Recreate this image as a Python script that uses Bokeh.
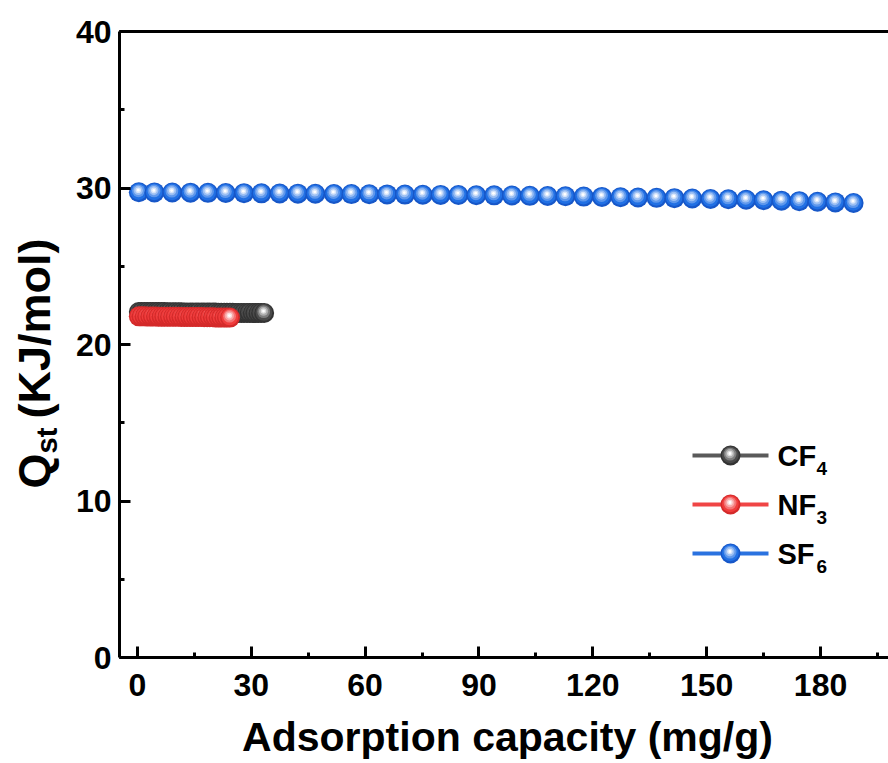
import math

from bokeh.embed import file_html
from bokeh.models import ColumnDataSource, FixedTicker, Label, LinearAxis, SingleIntervalTicker
from bokeh.plotting import figure
from bokeh.resources import INLINE

# ---------------------------------------------------------------- data
# Isosteric heat of adsorption vs. adsorbed amount
cf4_capacity = [0.4, 1.1, 1.9, 2.6, 3.4, 4.1, 4.9, 5.6, 6.4, 7.1, 7.9, 8.6, 9.4, 10.1, 10.9,
                11.6, 12.4, 13.1, 13.9, 14.6, 15.4, 16.1, 16.9, 17.6, 18.4, 19.1, 19.9, 20.6,
                21.4, 22.1, 22.9, 23.6, 24.4, 25.1, 25.9, 26.6, 27.4, 28.1, 28.9, 29.6, 30.4,
                31.1, 31.9, 32.6, 33.4]
cf4_qst = [22.08, 22.08, 22.08, 22.08, 22.07, 22.07, 22.07, 22.07, 22.07, 22.07, 22.06, 22.06,
           22.06, 22.06, 22.06, 22.06, 22.05, 22.05, 22.05, 22.05, 22.05, 22.05, 22.04, 22.04,
           22.04, 22.04, 22.04, 22.04, 22.03, 22.03, 22.03, 22.03, 22.03, 22.03, 22.02, 22.02,
           22.02, 22.02, 22.02, 22.02, 22.01, 22.01, 22.01, 22.01, 22.01]

nf3_capacity = [0.4, 1.1, 1.9, 2.6, 3.4, 4.1, 4.9, 5.6, 6.4, 7.1, 7.9, 8.6, 9.4, 10.1, 10.9,
                11.6, 12.4, 13.1, 13.9, 14.6, 15.4, 16.1, 16.9, 17.6, 18.4, 19.1, 19.9, 20.6,
                21.4, 22.1, 22.9, 23.6, 24.4]
nf3_qst = [21.80, 21.80, 21.80, 21.79, 21.79, 21.79, 21.79, 21.78, 21.78, 21.78, 21.78, 21.77,
           21.77, 21.77, 21.77, 21.76, 21.76, 21.76, 21.76, 21.75, 21.75, 21.75, 21.75, 21.74,
           21.74, 21.74, 21.74, 21.73, 21.73, 21.73, 21.73, 21.72, 21.72]

sf6_capacity = [0.4, 4.5, 9.2, 14.0, 18.6, 23.3, 28.1, 32.7, 37.5, 42.3, 46.9, 51.8, 56.4, 61.1,
                65.8, 70.5, 75.2, 79.9, 84.6, 89.3, 94.0, 98.7, 103.4, 108.1, 112.8, 117.6,
                122.4, 127.3, 131.9, 136.8, 141.5, 146.2, 151.0, 155.7, 160.4, 165.0, 169.7,
                174.4, 179.2, 183.9, 188.7]
sf6_qst = [29.73, 29.72, 29.71, 29.70, 29.69, 29.68, 29.67, 29.66, 29.65, 29.64, 29.63, 29.62,
           29.61, 29.60, 29.59, 29.58, 29.57, 29.56, 29.55, 29.54, 29.53, 29.52, 29.50, 29.49,
           29.47, 29.45, 29.43, 29.41, 29.39, 29.37, 29.35, 29.33, 29.30, 29.28, 29.25, 29.22,
           29.19, 29.16, 29.12, 29.08, 29.04]

x_tick_step = 30
y_tick_step = 10
y_axis_top = 40

# ---------------------------------------------------------------- layout
# The plotting frame fills the whole canvas; axes sit at fixed data positions
# so that titles and legend text outside the axes box are not clipped.
W, H = 888, 763
AXIS_LEFT_PX, AXIS_TOP_PX, AXIS_BOTTOM_PX = 119, 31, 657
X_LO, X_HI = -4.7, 197.9
PX_X = (W - AXIS_LEFT_PX) / (X_HI - X_LO)
PX_Y = (AXIS_BOTTOM_PX - AXIS_TOP_PX) / y_axis_top
X_START = X_LO - AXIS_LEFT_PX / PX_X
X_END = X_HI
Y_END = y_axis_top + AXIS_TOP_PX / PX_Y
Y_START = Y_END - H / PX_Y

FONT = "Liberation Sans"
BASELINE_FIX = 0.38  # em; brings the drawn baseline onto the anchor point


def data_x(sx):
    return X_START + sx / PX_X


def data_y(sy):
    return Y_END - sy / PX_Y


def text_label(text, sx, sy, size, align="left", vertical=False):
    """Bold label whose alphabetic baseline passes through pixel (sx, sy)."""
    if vertical:
        sx -= BASELINE_FIX * size
    else:
        sy -= BASELINE_FIX * size
    return Label(x=data_x(sx), y=data_y(sy), text=text,
                 angle=math.pi / 2 if vertical else 0,
                 text_font=FONT, text_font_size=f"{size}px", text_font_style="bold",
                 text_color="black", text_align=align, text_baseline="alphabetic")


def blend(c, t):
    """Mix a hex colour toward white by fraction t."""
    rgb = [int(c[i:i + 2], 16) for i in (1, 3, 5)]
    return "#%02x%02x%02x" % tuple(round(v + (255 - v) * t) for v in rgb)


# shaded-ball marker: stacked discs (diameter fraction, whitening, lift, left shift)
BALL_LAYERS = [
    (1.00, None, 0.00, 0.00),
    (0.84, 0.00, 0.03, 0.01),
    (0.64, 0.28, 0.07, 0.02),
    (0.46, 0.55, 0.09, 0.03),
    (0.28, 0.82, 0.10, 0.03),
    (0.14, 1.00, 0.10, 0.03),
]


def ball_source(xs, ys, size, edge, body):
    cols = {"x": [], "y": [], "size": [], "color": []}
    for x, y in zip(xs, ys):
        for frac, white, lift, shift in BALL_LAYERS:
            cols["x"].append(x - shift * size / PX_X)
            cols["y"].append(y + lift * size / PX_Y)
            cols["size"].append(frac * size)
            cols["color"].append(edge if white is None else blend(body, white))
    return ColumnDataSource(cols)


p = figure(
    width=W, height=H,
    x_range=(X_START, X_END), y_range=(Y_START, Y_END),
    x_axis_location=None, y_axis_location=None,
    output_backend="svg", toolbar_location=None,
    min_border=0,
)
p.outline_line_color = None
p.xgrid.grid_line_color = None
p.ygrid.grid_line_color = None
p.background_fill_color = "white"
p.border_fill_color = "white"

bottom_axis = LinearAxis(fixed_location=0, bounds=(X_LO, X_HI),
                         ticker=SingleIntervalTicker(interval=x_tick_step, num_minor_ticks=2))
left_axis = LinearAxis(fixed_location=X_LO, bounds=(0, y_axis_top),
                       ticker=SingleIntervalTicker(interval=y_tick_step, num_minor_ticks=2))
for ax in (bottom_axis, left_axis):
    ax.axis_line_width = 3
    ax.axis_line_color = "black"
    ax.major_tick_line_width = 3
    ax.minor_tick_line_width = 3
    ax.major_tick_in = 11
    ax.major_tick_out = 0
    ax.minor_tick_in = 5
    ax.minor_tick_out = 0
    ax.major_label_text_font = FONT
    ax.major_label_text_font_size = "32px"
    ax.major_label_text_font_style = "bold"
    ax.major_label_text_color = "black"
bottom_axis.major_label_standoff = 16
left_axis.major_label_standoff = 8
p.add_layout(bottom_axis, "below")
p.add_layout(left_axis, "left")

# closing line along the top of the axes box
top_axis = LinearAxis(
    fixed_location=y_axis_top, bounds=(X_LO, X_HI),
    ticker=FixedTicker(ticks=[]), major_label_text_font_size="0px",
    axis_line_width=3, axis_line_color="black",
    major_tick_in=0, major_tick_out=0, minor_tick_in=0, minor_tick_out=0,
)
p.add_layout(top_axis, "above")

# ---------------------------------------------------------------- series
BALL = 20
series = [
    ("CF", "4", cf4_capacity, cf4_qst, "#5a5a5a", "#333333", "#4a4a4a"),
    ("NF", "3", nf3_capacity, nf3_qst, "#f04545", "#d42a2a", "#f03c3c"),
    ("SF", "6", sf6_capacity, sf6_qst, "#2a72e0", "#1757c8", "#2170e4"),
]

for name, sub, xs, ys, line_c, edge, body in series:
    p.line(xs, ys, line_width=4, line_color=line_c)
    p.scatter("x", "y", size="size", fill_color="color", line_color=None,
              source=ball_source(xs, ys, BALL, edge, body))

# ---------------------------------------------------------------- legend
legend_rows = [455, 504, 553]
for (name, sub, xs, ys, line_c, edge, body), sy in zip(series, legend_rows):
    ly = data_y(sy)
    p.line([data_x(692), data_x(768)], [ly, ly], line_width=4, line_color=line_c)
    p.scatter("x", "y", size="size", fill_color="color", line_color=None,
              source=ball_source([data_x(730)], [ly], BALL, edge, body))
    p.add_layout(text_label(name, 777, sy + 12, 29))
    p.add_layout(text_label(sub, 816, sy + 20, 19))

# ---------------------------------------------------------------- axis titles
p.add_layout(text_label("Adsorption capacity (mg/g)", 507, 752, 41, align="center"))

# Q_st (KJ/mol), written bottom to top
p.add_layout(text_label("Q", 51, 488, 45, vertical=True))
p.add_layout(text_label("st", 58, 453, 29, vertical=True))
p.add_layout(text_label("(KJ/mol)", 51, 418, 45, vertical=True))

open("out.html", "w").write(file_html(p, INLINE))
